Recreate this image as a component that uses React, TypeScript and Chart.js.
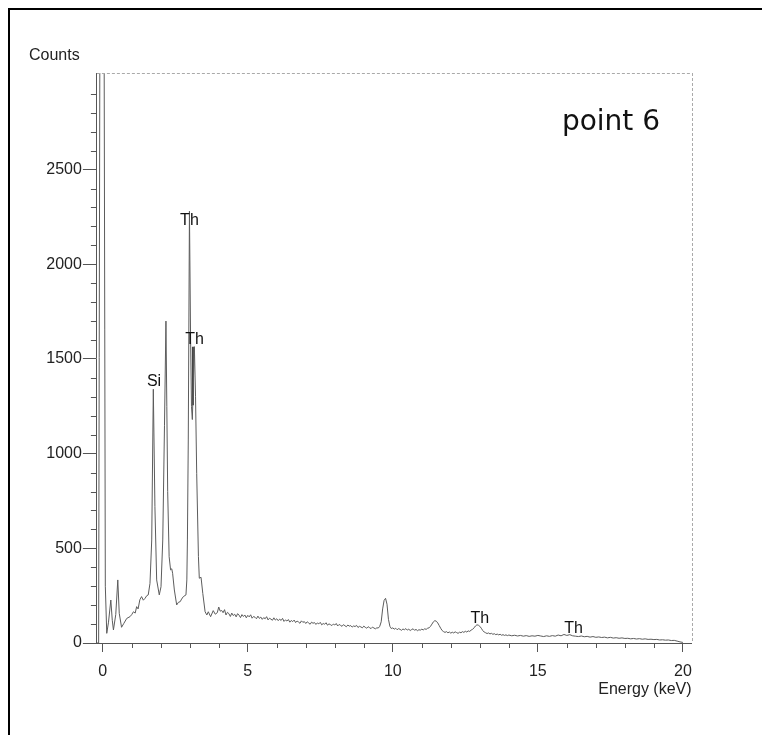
import React, { useEffect, useRef } from 'react';
import { Chart, registerables } from 'chart.js';

Chart.register(...registerables);

// Low-energy part of the spectrum (keV, counts)
const lowEnergy = [
  -0.2, -0.14, -0.08, -0.02, 0.03, 0.09, 0.14, 0.2, 0.28, 0.33, 0.37, 0.45, 0.52, 0.57, 0.65, 0.73, 0.83, 0.94,
  1.0, 1.06, 1.12, 1.17, 1.22, 1.28, 1.34, 1.4, 1.46, 1.52, 1.57, 1.63, 1.69, 1.745, 1.8, 1.86, 1.95,
  2.01, 2.07, 2.13, 2.18, 2.21, 2.24, 2.29, 2.34, 2.38, 2.41, 2.47, 2.55, 2.61, 2.67, 2.72, 2.78, 2.87, 2.9, 2.92, 2.95, 2.99,
  3.03, 3.06, 3.09, 3.13, 3.16, 3.2, 3.24, 3.3, 3.33, 3.39, 3.45, 3.53, 3.59, 3.64, 3.72, 3.81, 3.88, 3.95,
];
const lowCounts = [
  0, 0, 4500, 9000, 4500, 300, 51, 110, 227, 120, 69, 150, 333, 157, 83, 104, 130, 139,
  150, 165, 158, 192, 180, 228, 245, 226, 236, 250, 254, 315, 544, 1340, 720, 333, 254,
  297, 544, 1150, 1700, 1250, 800, 456, 386, 392, 368, 280, 201, 215, 218, 232, 245, 254, 333, 544, 1072, 2280,
  1600, 1250, 1180, 1400, 1565, 1300, 896, 456, 342, 347, 262, 165, 148, 165, 139, 171, 152, 160,
];

// Channel grid 4.00 .. 14.00 keV, 0.05 keV per channel
const tailAStart = 4.0;
const tailAStep = 0.05;
const tailACounts = [
  190, 168, 172, 160, 176, 148, 162, 155, 140, 158, 145, 152, 138, 155, 147, 134, 150, 140, 148, 133,
  146, 138, 149, 131, 140, 136, 128, 142, 130, 137, 125, 134, 128, 139, 122, 131, 126, 120, 133, 121,
  128, 118, 126, 119, 130, 114, 122, 116, 124, 110, 119, 113, 121, 108, 116, 111, 104, 117, 109, 113,
  103, 112, 106, 99, 110, 104, 108, 98, 106, 101, 109, 96, 103, 99, 107, 94, 101, 97, 92, 100,
  95, 103, 90, 98, 93, 88, 97, 91, 86, 95, 89, 92, 84, 90, 87, 93, 82, 88, 85, 80,
  89, 83, 78, 86, 81, 76, 84, 79, 75, 80, 79, 88, 112, 180, 225, 236, 205, 125, 88, 76,
  80, 73, 78, 70, 76, 72, 67, 74, 70, 76, 68, 73, 66, 71, 75, 67, 72, 65, 70, 68,
  73, 69, 75, 72, 78, 80, 88, 100, 112, 118, 115, 106, 92, 78, 66, 60, 56, 60, 54, 58,
  52, 57, 53, 59, 55, 51, 57, 54, 60, 56, 62, 58, 64, 61, 68, 72, 80, 90, 96, 94,
  88, 78, 66, 58, 54, 50, 53, 48, 51, 46, 49, 44, 47, 43, 46, 41, 44, 40, 43, 39,
  42,
];

// Channel grid 14.1 .. 20.0 keV, 0.1 keV per channel
const tailBStart = 14.1;
const tailBStep = 0.1;
const tailBCounts = [
  38, 41, 37, 40, 36, 39, 35, 38, 36, 40,
  37, 34, 38, 35, 39, 36, 42, 38, 45, 40,
  44, 38, 36, 34, 37, 33, 35, 31, 34, 30,
  32, 29, 31, 27, 30, 26, 28, 25, 27, 24,
  25, 22, 24, 21, 23, 20, 22, 19, 20, 18,
  19, 16, 17, 15, 16, 13, 14, 10, 6, 3,
];

// KLM marker line for Th
const markerEnergy = [3.11, 3.11];
const markerCounts = [1565, 1255];

const xMajorTicks = [0, 5, 10, 15, 20];
const xMinorTicks = [1, 2, 3, 4, 6, 7, 8, 9, 11, 12, 13, 14, 16, 17, 18, 19];
const yMajorTicks = [0, 500, 1000, 1500, 2000, 2500];
const yMinorTicks = [
  100, 200, 300, 400, 600, 700, 800, 900, 1100, 1200, 1300, 1400, 1600, 1700, 1800, 1900,
  2100, 2200, 2300, 2400, 2600, 2700, 2800, 2900,
];

const peakLabels = ['Si', 'Th', 'Th', 'Th', 'Th'];
const peakLabelEnergy = [1.77, 2.99, 3.17, 13.0, 16.23];
const peakLabelCounts = [1358, 2208, 1580, 106, 53];

const caption = 'point 6';

const SANS = '"Liberation Sans", Arial, sans-serif';

const decorPlugin = {
  id: 'decor',
  afterDraw(chart: any) {
    const { ctx, chartArea: a, scales } = chart;
    const x = scales.x;
    const y = scales.y;
    ctx.save();
    ctx.strokeStyle = '#555';
    ctx.lineWidth = 1;
    ctx.beginPath();
    xMinorTicks.forEach((v) => {
      const px = Math.round(x.getPixelForValue(v)) + 0.5;
      ctx.moveTo(px, a.bottom);
      ctx.lineTo(px, a.bottom + 5);
    });
    yMinorTicks.forEach((v) => {
      const py = Math.round(y.getPixelForValue(v)) + 0.5;
      ctx.moveTo(a.left - 6, py);
      ctx.lineTo(a.left, py);
    });
    ctx.stroke();

    ctx.setLineDash([3, 2]);
    ctx.strokeStyle = '#aaa';
    ctx.beginPath();
    ctx.moveTo(a.left, Math.round(a.top) + 0.5);
    ctx.lineTo(a.right, Math.round(a.top) + 0.5);
    ctx.moveTo(Math.round(a.right) + 0.5, a.top);
    ctx.lineTo(Math.round(a.right) + 0.5, a.bottom);
    ctx.stroke();
    ctx.setLineDash([]);

    ctx.fillStyle = '#111';
    ctx.font = '16px ' + SANS;
    ctx.textAlign = 'center';
    ctx.textBaseline = 'alphabetic';
    peakLabels.forEach((t, i) => {
      ctx.fillText(t, x.getPixelForValue(peakLabelEnergy[i]), y.getPixelForValue(peakLabelCounts[i]));
    });

    ctx.font = '28px "DejaVu Sans", sans-serif';
    ctx.textAlign = 'right';
    ctx.fillText(caption, a.right - 31.6, a.top + 57);
    ctx.restore();
  },
};

export default function App() {
  const ref = useRef<HTMLCanvasElement>(null);

  useEffect(() => {
    if (!ref.current) return;
    const spectrum: { x: number; y: number }[] = [];
    lowEnergy.forEach((e, i) => spectrum.push({ x: e, y: lowCounts[i] }));
    tailACounts.forEach((c, i) => spectrum.push({ x: tailAStart + i * tailAStep, y: c }));
    tailBCounts.forEach((c, i) => spectrum.push({ x: tailBStart + i * tailBStep, y: c }));
    const marker = markerEnergy.map((e, i) => ({ x: e, y: markerCounts[i] }));

    const chart = new Chart(ref.current, {
      type: 'line',
      data: {
        datasets: [
          {
            data: spectrum,
            borderColor: '#5c5c5c',
            borderWidth: 1,
            pointRadius: 0,
            tension: 0,
            fill: false,
          },
          {
            data: marker,
            borderColor: '#444',
            borderWidth: 2,
            pointRadius: 0,
            fill: false,
          },
        ],
      },
      options: {
        responsive: false,
        animation: false,
        events: [],
        layout: { padding: { left: 29, top: 10, right: 70.4, bottom: 0 } },
        plugins: {
          legend: { display: false },
          tooltip: { enabled: false },
          title: {
            display: true,
            text: 'Counts',
            align: 'start',
            color: '#222',
            font: { family: SANS, size: 16, weight: 'normal' },
            padding: { top: 35.6, bottom: 8.2 },
          },
        },
        scales: {
          x: {
            type: 'linear',
            min: -0.2,
            max: 20.3,
            afterBuildTicks: (s: any) => {
              s.ticks = xMajorTicks.map((v) => ({ value: v }));
            },
            afterFit: (s: any) => {
              s.height = 92;
            },
            grid: { drawOnChartArea: false, tickLength: 9, color: '#555' },
            border: { color: '#555' },
            ticks: {
              padding: 10,
              color: '#222',
              font: { family: SANS, size: 16 },
              maxRotation: 0,
              callback: (v: any) => String(v),
            },
            title: {
              display: true,
              text: 'Energy (keV)',
              align: 'end',
              color: '#222',
              font: { family: SANS, size: 16 },
              padding: { top: 0, bottom: 35.9 },
            },
          },
          y: {
            type: 'linear',
            min: 0,
            max: 3010,
            afterBuildTicks: (s: any) => {
              s.ticks = yMajorTicks.map((v) => ({ value: v }));
            },
            afterFit: (s: any) => {
              s.width = 67.9;
            },
            grid: { drawOnChartArea: false, tickLength: 14, color: '#555' },
            border: { color: '#555' },
            ticks: {
              padding: 1,
              color: '#222',
              font: { family: SANS, size: 16 },
              callback: (v: any) => String(v),
            },
          },
        },
      },
      plugins: [decorPlugin],
    });
    return () => chart.destroy();
  }, []);

  return (
    <>
      <canvas
        ref={ref}
        width={762}
        height={735}
        style={{ position: 'absolute', left: 0, top: 0, width: 762, height: 735 }}
      />
      <div
        style={{
          position: 'absolute',
          left: 8,
          top: 8,
          width: 754,
          height: 727,
          boxSizing: 'border-box',
          borderTop: '2px solid #000',
          borderLeft: '2px solid #000',
          pointerEvents: 'none',
        }}
      />
    </>
  );
}
